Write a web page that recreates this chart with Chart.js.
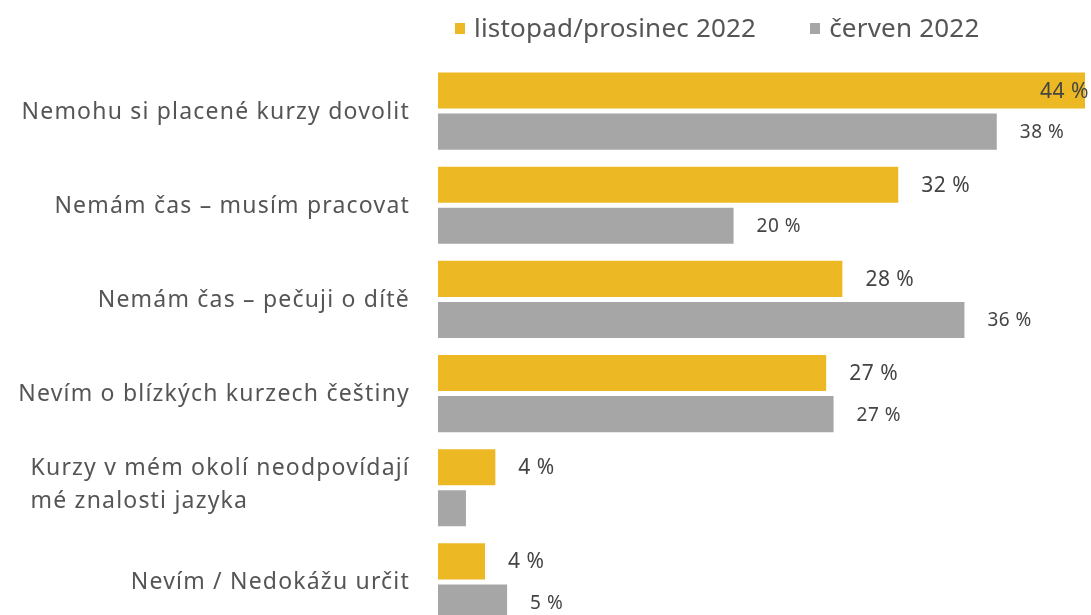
<!DOCTYPE html>
<html>
<head>
<meta charset="utf-8">
<script src="https://cdn.jsdelivr.net/npm/chart.js@4"></script>
<style>
  html, body { margin: 0; padding: 0; background: #fff; overflow: hidden; }
  #wrap { position: relative; width: 1091px; height: 640px; }
  #legend { position: absolute; top: 12px; left: 455px; font-family: "Noto Sans", sans-serif; font-size: 26px; line-height: 30px; letter-spacing: 0.2px; color: #555; display: flex; white-space: nowrap; }
  #legend span.item { display: flex; align-items: center; margin-right: 54px; }
  #legend span.box { width: 10px; height: 11px; margin-right: 9px; margin-top: 2px; display: inline-block; }
</style>
</head>
<body>
<div id="wrap">
  <canvas id="barChart" width="1091" height="640"></canvas>
  <div id="legend"></div>
</div>
<script>
// categories (the fifth one is split over two lines)
const categories = [
    'Nemohu si placené kurzy dovolit',
    'Nemám čas – musím pracovat',
    'Nemám čas – pečuji o dítě',
    'Nevím o blízkých kurzech češtiny',
    ['Kurzy v mém okolí neodpovídají', 'mé znalosti jazyka'],
    'Nevím / Nedokážu určit'
];
const seriesNames = ['listopad/prosinec 2022', 'červen 2022'];
const novDec = [44, 31.3, 27.5, 26.4, 3.9, 3.2];
const june = [38, 20.1, 35.8, 26.9, 1.9, 4.7];
// value labels as printed next to the bars
const novDecLabels = ['44 %', '32 %', '28 %', '27 %', '4 %', '4 %'];
const juneLabels = ['38 %', '20 %', '36 %', '27 %', null, '5 %'];

const colors = ['#ECB823', '#A6A6A6'];
const FONT = '"Noto Sans", sans-serif';

// category names left of the bars: block right aligned, lines left aligned
const categoryLabels = {
    id: 'categoryLabels',
    afterDraw(chart) {
        const ctx = chart.ctx;
        const yScale = chart.scales.y;
        const right = chart.chartArea.left - 28;
        const lineGap = 33;
        ctx.save();
        ctx.font = '23px ' + FONT;
        ctx.letterSpacing = '1.2px';
        ctx.fillStyle = '#555';
        ctx.textBaseline = 'middle';
        ctx.textAlign = 'left';
        chart.data.labels.forEach((lbl, i) => {
            const lines = Array.isArray(lbl) ? lbl : [lbl];
            const w = Math.max(...lines.map(l => ctx.measureText(l).width));
            const shift = lines.length > 1 ? -3 : 1;
            const y0 = yScale.getPixelForTick(i) - (lines.length - 1) * lineGap / 2 + shift;
            lines.forEach((l, k) => ctx.fillText(l, right - w, y0 + k * lineGap));
        });
        ctx.restore();
    }
};

// value text to the right of every bar
const valueLabels = {
    id: 'valueLabels',
    afterDatasetsDraw(chart) {
        const ctx = chart.ctx;
        const sets = [novDecLabels, juneLabels];
        const sizes = [21, 19];
        ctx.save();
        ctx.fillStyle = '#444';
        ctx.textBaseline = 'middle';
        ctx.letterSpacing = '0.5px';
        chart.data.datasets.forEach((ds, i) => {
            const meta = chart.getDatasetMeta(i);
            ctx.font = sizes[i] + 'px ' + FONT;
            meta.data.forEach((bar, j) => {
                const txt = sets[i][j];
                if (!txt) return;
                const w = ctx.measureText(txt).width;
                let x = bar.x + 23;
                if (x + w > chart.width - 2) x = chart.width - w - 2;
                ctx.fillText(txt, x, bar.y + 1);
            });
        });
        ctx.restore();
    }
};

const ctx = document.getElementById('barChart').getContext('2d');
new Chart(ctx, {
    type: 'bar',
    data: {
        labels: categories,
        datasets: [{
            label: seriesNames[0],
            data: novDec,
            backgroundColor: colors[0]
        }, {
            label: seriesNames[1],
            data: june,
            backgroundColor: colors[1]
        }]
    },
    options: {
        indexAxis: 'y',
        responsive: false,
        animation: false,
        categoryPercentage: 82 / 94,
        barPercentage: 36 / 41,
        layout: { padding: { top: 64, bottom: 11, right: 6 } },
        plugins: {
            legend: { display: false },
            tooltip: { enabled: false }
        },
        scales: {
            x: { display: false, min: 0, max: 44 },
            y: {
                grid: { display: false, drawTicks: false },
                border: { display: false },
                ticks: { display: false },
                afterFit(scale) { scale.width = 438; }
            }
        }
    },
    plugins: [valueLabels, categoryLabels]
});

// html legend
const legend = document.getElementById('legend');
seriesNames.forEach((name, i) => {
    const item = document.createElement('span');
    item.className = 'item';
    item.innerHTML = '<span class="box" style="background:' + colors[i] + '"></span>' + name;
    legend.appendChild(item);
});
</script>
</body>
</html>
